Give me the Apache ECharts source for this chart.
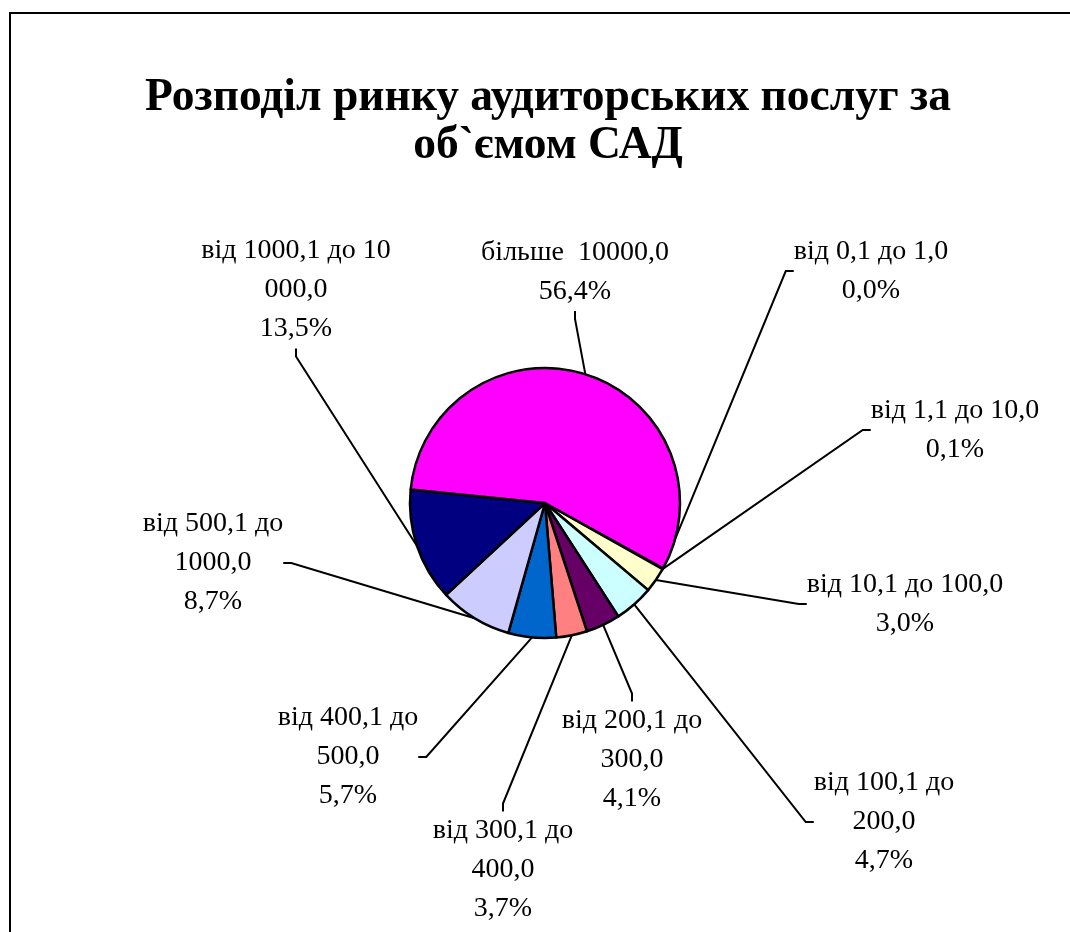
<!DOCTYPE html>
<html>
<head>
<meta charset="utf-8">
<script src="https://cdn.jsdelivr.net/npm/echarts@6/dist/echarts.min.js"></script>
<style>
  html, body { margin: 0; padding: 0; background: #fff; }
  #chart { width: 1070px; height: 932px; }
</style>
</head>
<body>
<div id="chart"></div>
<script>
// categories as they are wrapped on the chart
const categories = [
  'від 0,1 до 1,0',
  'від 1,1 до 10,0',
  'від 10,1 до 100,0',
  'від 100,1 до\n200,0',
  'від 200,1 до\n300,0',
  'від 300,1 до\n400,0',
  'від 400,1 до\n500,0',
  'від 500,1 до\n1000,0',
  'від 1000,1 до 10\n000,0',
  'більше  10000,0'
];
// share, %
const shares = [0.0, 0.1, 3.0, 4.7, 4.1, 3.7, 5.7, 8.7, 13.5, 56.4];
// Excel default fill palette
const colors = ['#9999FF', '#993366', '#FFFFCC', '#CCFFFF', '#660066',
  '#FF8080', '#0066CC', '#CCCCFF', '#000080', '#FF00FF'];
// where each label block sits (centre)
const labelPos = [
  [871, 271], [955, 430], [905, 604], [884, 822], [632, 760],
  [503, 870], [348, 757], [213, 563], [296, 290], [575, 272]
];

const chartDom = document.getElementById('chart');
const myChart = echarts.init(chartDom);

const option = {
  animation: false,
  title: {
    text: 'Розподіл ринку аудиторських послуг за\nоб`ємом САД',
    left: 548,
    textAlign: 'center',
    top: 74,
    padding: 0,
    textStyle: {
      fontFamily: 'Liberation Serif',
      fontWeight: 'bold',
      fontSize: 45.5,
      lineHeight: 48,
      color: '#000'
    }
  },
  graphic: [
    {
      type: 'rect',
      shape: { x: 10, y: 13, width: 1100, height: 1000 },
      style: { fill: 'none', stroke: '#000', lineWidth: 2 },
      silent: true
    }
  ],
  series: [
    {
      type: 'pie',
      center: [545, 503],
      radius: 135,
      startAngle: -29,
      clockwise: true,
      avoidLabelOverlap: false,
      itemStyle: { borderColor: '#000', borderWidth: 2.5 },
      label: {
        show: true,
        position: 'outside',
        color: '#000',
        fontFamily: 'Liberation Serif',
        fontSize: 28,
        lineHeight: 39,
        align: 'center',
        formatter: (p) => p.name + '\n' + p.value.toFixed(1).replace('.', ',') + '%'
      },
      labelLine: {
        show: true,
        length: 10,
        length2: 8,
        lineStyle: { color: '#000', width: 2 }
      },
      labelLayout: (params) => {
        const pos = labelPos[params.dataIndex];
        return { x: pos[0], y: pos[1], align: 'center', verticalAlign: 'middle' };
      },
      emphasis: { disabled: true },
      data: categories.map((name, i) => ({
        name: name,
        value: shares[i],
        itemStyle: { color: colors[i] }
      }))
    }
  ]
};

myChart.setOption(option);
</script>
</body>
</html>
